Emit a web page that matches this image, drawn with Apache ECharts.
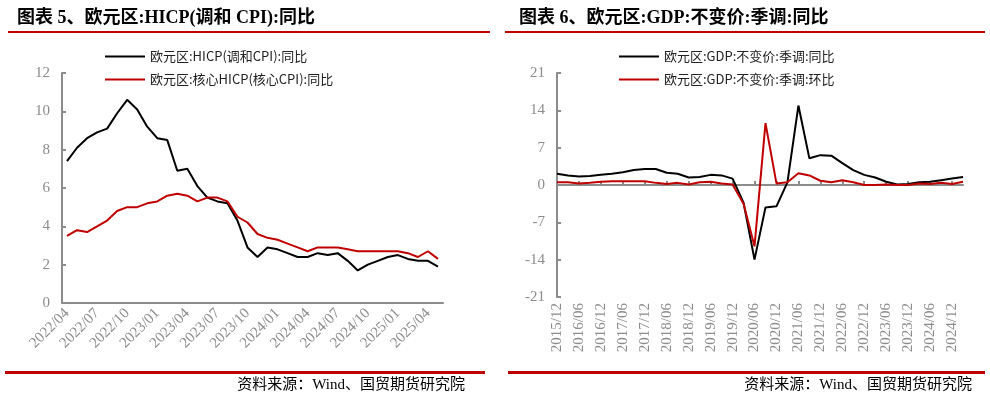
<!DOCTYPE html>
<html>
<head>
<meta charset="utf-8">
<script src="https://cdn.jsdelivr.net/npm/echarts@6/dist/echarts.min.js"></script>
<style>html,body{margin:0;padding:0;background:#fff}#main{width:990px;height:403px}</style>
</head>
<body>
<div id="main"></div>
<script>
// 左图：欧元区 HICP 月度
var months = [];
for (var y = 2022, m = 4; months.length < 38; m++) {
  if (m > 12) { m = 1; y++; }
  months.push(y + '/' + (m < 10 ? '0' + m : m));
}
var hicp = [7.4,8.1,8.6,8.9,9.1,9.9,10.6,10.1,9.2,8.6,8.5,6.9,7.0,6.1,5.5,5.3,5.2,4.3,2.9,2.4,2.9,2.8,2.6,2.4,2.4,2.6,2.5,2.6,2.2,1.7,2.0,2.2,2.4,2.5,2.3,2.2,2.2,1.9];
var coreHicp = [3.5,3.8,3.7,4.0,4.3,4.8,5.0,5.0,5.2,5.3,5.6,5.7,5.6,5.3,5.5,5.5,5.3,4.5,4.2,3.6,3.4,3.3,3.1,2.9,2.7,2.9,2.9,2.9,2.8,2.7,2.7,2.7,2.7,2.7,2.6,2.4,2.7,2.3];

// 右图：欧元区 GDP 季度
var quarters = [];
for (var qy = 2015, qm = 12; quarters.length < 38; qm += 3) {
  if (qm > 12) { qm -= 12; qy++; }
  quarters.push(qy + '/' + (qm < 10 ? '0' + qm : qm));
}
var gdpYoy = [2.1,1.8,1.6,1.7,1.9,2.1,2.4,2.8,3.0,3.0,2.3,2.1,1.4,1.5,1.9,1.8,1.2,-3.3,-14.0,-4.2,-4.0,0.5,14.9,5.0,5.6,5.5,4.1,2.8,1.9,1.4,0.6,0.1,0.2,0.5,0.6,0.9,1.2,1.5];
var gdpQoq = [0.5,0.5,0.3,0.4,0.6,0.7,0.7,0.7,0.7,0.4,0.2,0.4,0.1,0.5,0.6,0.3,0.1,-3.5,-11.5,11.6,0.3,0.5,2.2,1.8,0.8,0.5,0.9,0.5,0.0,0.0,0.1,0.0,0.0,0.3,0.2,0.4,0.2,0.6];

var serif = '"Liberation Serif", "Noto Sans CJK SC", serif';
var cjk = '"Noto Sans CJK SC", sans-serif';
var gray = '#8c8c8c';

function yAx(idx, min, max, step) {
  return {
    gridIndex: idx, type: 'value', min: min, max: max, interval: step,
    axisLine: { show: true, lineStyle: { color: gray, width: 2 } },
    axisTick: { show: true, inside: true, length: 4, lineStyle: { color: gray, width: 2 } },
    splitLine: { show: false },
    axisLabel: { color: gray, fontFamily: serif, fontSize: 15, margin: 12 }
  };
}

var chart = echarts.init(document.getElementById('main'));
chart.setOption({
  animation: false,
  textStyle: { fontFamily: cjk },
  title: [
    { text: '图表 5、欧元区:HICP(调和 CPI):同比', left: 12, top: 4, textStyle: { fontFamily: serif, fontSize: 18, fontWeight: 'bold', color: '#000' } },
    { text: '图表 6、欧元区:GDP:不变价:季调:同比', left: 514, top: 4, textStyle: { fontFamily: serif, fontSize: 18, fontWeight: 'bold', color: '#000' } }
  ],
  graphic: [
    { type: 'rect', shape: { x: 8, y: 31, width: 482, height: 2 }, style: { fill: '#c00000' } },
    { type: 'rect', shape: { x: 505, y: 31, width: 480, height: 2 }, style: { fill: '#c00000' } },
    { type: 'rect', shape: { x: 5, y: 371, width: 480, height: 3 }, style: { fill: '#c00000' } },
    { type: 'rect', shape: { x: 508, y: 371, width: 477, height: 3 }, style: { fill: '#c00000' } },
    { type: 'text', right: 525, top: 378, style: { text: '资料来源：Wind、国贸期货研究院', font: '15px ' + serif, fill: '#000' } },
    { type: 'text', right: 18, top: 378, style: { text: '资料来源：Wind、国贸期货研究院', font: '15px ' + serif, fill: '#000' } }
  ],
  legend: [
    { data: ['欧元区:HICP(调和CPI):同比', '欧元区:核心HICP(核心CPI):同比'], orient: 'vertical', left: 100, top: 45, itemGap: 10, itemWidth: 40, itemHeight: 2,
      icon: 'rect', textStyle: { fontSize: 13, color: '#222' } },
    { data: ['欧元区:GDP:不变价:季调:同比', '欧元区:GDP:不变价:季调:环比'], orient: 'vertical', left: 614, top: 45, itemGap: 10, itemWidth: 40, itemHeight: 2,
      icon: 'rect', textStyle: { fontSize: 13, color: '#222' } }
  ],
  grid: [
    { left: 62, top: 73, width: 381, height: 230 },
    { left: 557, top: 73, width: 406, height: 224 }
  ],
  xAxis: [
    { gridIndex: 0, type: 'category', data: months, boundaryGap: true,
      axisLine: { lineStyle: { color: gray, width: 2 } },
      axisTick: { interval: 2, inside: true, length: 4, alignWithLabel: true, lineStyle: { color: gray, width: 2 } },
      axisLabel: { interval: 2, rotate: 45, color: gray, fontFamily: serif, fontSize: 15, margin: 8 } },
    { gridIndex: 1, type: 'category', data: quarters, boundaryGap: false,
      axisLine: { onZero: true, lineStyle: { color: gray, width: 2 } },
      axisTick: { interval: 1, inside: true, length: 4, lineStyle: { color: gray, width: 2 } },
      axisLabel: { show: false } },
    { gridIndex: 1, type: 'category', data: quarters, boundaryGap: false, position: 'bottom',
      axisLine: { show: false, onZero: false }, axisTick: { show: false },
      axisLabel: { interval: 1, rotate: 90, color: gray, fontFamily: serif, fontSize: 15, margin: 6 } }
  ],
  yAxis: [yAx(0, 0, 12, 2), yAx(1, -21, 21, 7)],
  series: [
    { name: '欧元区:HICP(调和CPI):同比', type: 'line', xAxisIndex: 0, yAxisIndex: 0, data: hicp, symbol: 'none', lineStyle: { color: '#000', width: 2 }, itemStyle: { color: '#000' } },
    { name: '欧元区:核心HICP(核心CPI):同比', type: 'line', xAxisIndex: 0, yAxisIndex: 0, data: coreHicp, symbol: 'none', lineStyle: { color: '#c00000', width: 2 }, itemStyle: { color: '#c00000' } },
    { name: '欧元区:GDP:不变价:季调:同比', type: 'line', xAxisIndex: 1, yAxisIndex: 1, data: gdpYoy, symbol: 'none', lineStyle: { color: '#000', width: 2 }, itemStyle: { color: '#000' } },
    { name: '欧元区:GDP:不变价:季调:环比', type: 'line', xAxisIndex: 1, yAxisIndex: 1, data: gdpQoq, symbol: 'none', lineStyle: { color: '#c00000', width: 2 }, itemStyle: { color: '#c00000' } }
  ]
});
</script>
</body>
</html>
